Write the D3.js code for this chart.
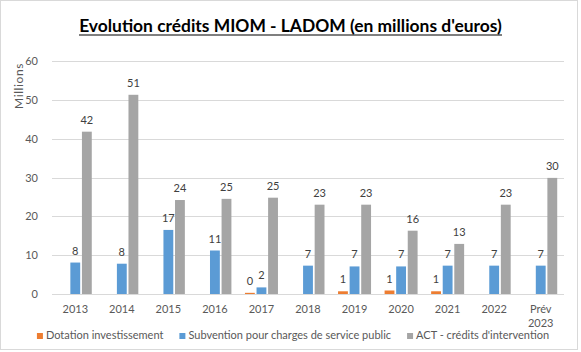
<!DOCTYPE html>
<html>
<head>
<meta charset="utf-8">
<script src="https://cdn.jsdelivr.net/npm/d3@7"></script>
<style>
  body { margin: 0; background: #fff; }
  text { font-family: Lato, "Open Sans", sans-serif; }
</style>
</head>
<body>
<div id="chart"></div>
<script>
// Data
const years = ["2013", "2014", "2015", "2016", "2017", "2018", "2019", "2020", "2021", "2022", "Prév 2023"];
const seriesNames = ["Dotation investissement", "Subvention pour charges de service public", "ACT - crédits d'intervention"];
const dotation = [null, null, null, null, 0.3, null, 0.7, 0.9, 0.7, null, null];
const subvention = [8.1, 7.8, 16.5, 11.2, 1.7, 7.3, 7.1, 7.1, 7.3, 7.3, 7.3];
const act = [41.8, 51.3, 24.2, 24.5, 24.8, 23.0, 23.0, 16.3, 12.9, 23.0, 29.9];
const yTicks = [0, 10, 20, 30, 40, 50, 60];

const colors = ["#ED7D31", "#5B9BD5", "#A5A5A5"];
const width = 581, height = 352;

const svg = d3.select("#chart").append("svg")
    .attr("width", width)
    .attr("height", height);

// chart area border
svg.append("rect")
    .attr("x", 0.5).attr("y", 0.5)
    .attr("width", 577).attr("height", 349)
    .attr("fill", "#fff")
    .attr("stroke", "#D9D9D9");

// Title (bold, underlined)
const title = svg.append("text")
    .attr("x", 290.5)
    .attr("y", 32)
    .attr("text-anchor", "middle")
    .style("font-size", "18px")
    .style("font-weight", "bold")
    .style("fill", "#000")
    .text("Evolution crédits MIOM - LADOM (en millions d'euros)");
const tw = title.node().getComputedTextLength();
title.style("font-size", (18 * 423 / tw) + "px");
svg.append("line")
    .attr("x1", 290.5 - 211.5).attr("x2", 290.5 + 211.5)
    .attr("y1", 35).attr("y2", 35)
    .attr("stroke", "#000").attr("stroke-width", 1.2);

// Scales
const x0 = d3.scaleBand().domain(years).range([52, 564]);
const x1 = d3.scaleBand().domain(seriesNames).range([0, 33]).paddingInner(0.15);
const y = d3.scaleLinear().domain([0, 60]).range([294, 61]);
const groupOffset = (x0.bandwidth() - 33) / 2;

// Gridlines
svg.append("g").selectAll("line")
    .data(yTicks)
    .enter().append("line")
    .attr("x1", 52).attr("x2", 564)
    .attr("y1", d => Math.round(y(d)) + 0.5)
    .attr("y2", d => Math.round(y(d)) + 0.5)
    .attr("stroke", "#D9D9D9");

// Y tick labels
svg.append("g").selectAll("text")
    .data(yTicks)
    .enter().append("text")
    .attr("x", 38)
    .attr("y", d => y(d) + 4)
    .attr("text-anchor", "end")
    .style("font-size", "11px")
    .style("fill", "#595959")
    .text(d => d);

// Display unit label
svg.append("text")
    .attr("transform", "translate(23,86) rotate(-90)")
    .attr("text-anchor", "middle")
    .style("font-size", "12px")
    .style("letter-spacing", "0.6px")
    .style("fill", "#595959")
    .text("Millions");

// X labels
const xl = svg.append("g").selectAll("text")
    .data(years)
    .enter().append("text")
    .attr("x", d => x0(d) + x0.bandwidth() / 2)
    .attr("y", 313)
    .attr("text-anchor", "middle")
    .style("font-size", "11px")
    .style("fill", "#595959");
xl.each(function(d) {
    const parts = d.split(" ");
    const t = d3.select(this);
    parts.forEach((p, i) => {
        t.append("tspan")
            .attr("x", x0(d) + x0.bandwidth() / 2)
            .attr("dy", i === 0 ? 0 : 14)
            .text(p);
    });
});

// Bars and labels
const allSeries = [dotation, subvention, act];
allSeries.forEach((vals, si) => {
    const pts = years.map((yr, i) => ({ year: yr, v: vals[i] })).filter(d => d.v !== null);
    const g = svg.append("g");
    g.selectAll("rect")
        .data(pts)
        .enter().append("rect")
        .attr("x", d => x0(d.year) + groupOffset + x1(seriesNames[si]))
        .attr("width", x1.bandwidth())
        .attr("y", d => y(d.v))
        .attr("height", d => y(0) - y(d.v))
        .attr("fill", colors[si]);
    g.selectAll("text")
        .data(pts)
        .enter().append("text")
        .attr("x", d => x0(d.year) + groupOffset + x1(seriesNames[si]) + x1.bandwidth() / 2)
        .attr("y", d => y(d.v) - 8)
        .attr("text-anchor", "middle")
        .style("font-size", "11px")
        .style("fill", "#404040")
        .text(d => Math.round(d.v));
});

// Legend
const legend = svg.append("g");
let lx = 0;
seriesNames.forEach((name, i) => {
    const it = legend.append("g");
    it.append("rect")
        .attr("x", 0).attr("y", -6)
        .attr("width", 6).attr("height", 6)
        .attr("fill", colors[i]);
    const t = it.append("text")
        .attr("x", 9).attr("y", 0)
        .style("font-size", "11px")
        .style("fill", "#595959")
        .text(name);
    const w = 9 + t.node().getComputedTextLength();
    it.attr("transform", `translate(${lx},0)`);
    lx += w + 16;
});
const totalW = lx - 16;
legend.attr("transform", `translate(${293 - totalW / 2},339)`);
</script>
</body>
</html>
